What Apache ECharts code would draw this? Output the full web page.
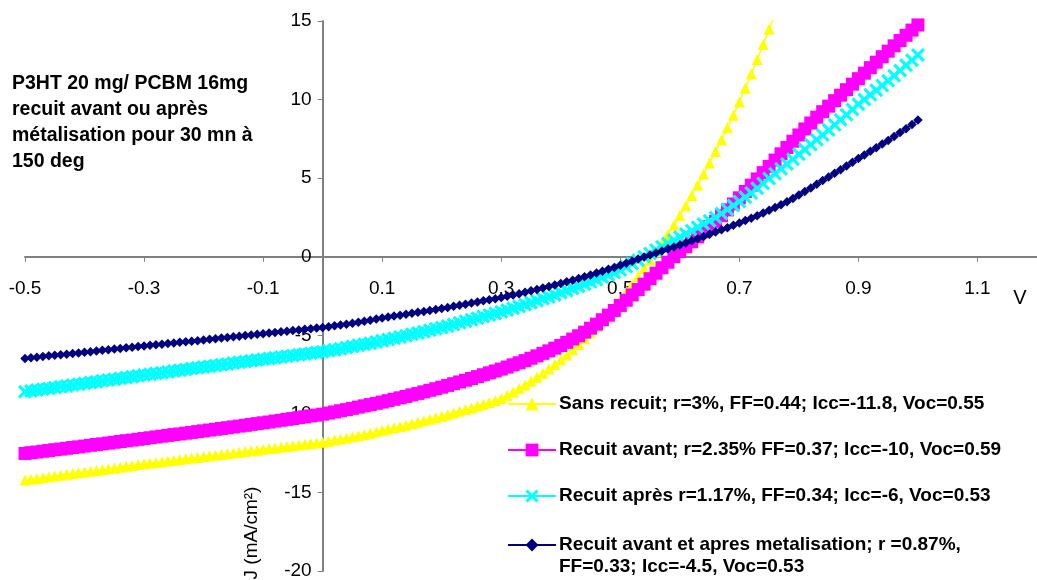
<!DOCTYPE html>
<html>
<head>
<meta charset="utf-8">
<script src="https://cdn.jsdelivr.net/npm/echarts@6/dist/echarts.min.js"></script>
<style>
  html, body { margin: 0; padding: 0; background: #ffffff; }
  #chart { width: 1037px; height: 580px; }
</style>
</head>
<body>
<div id="chart"></div>
<script>
// Voltage sweep (V)
const volts = [
  -0.50, -0.49, -0.48, -0.47, -0.46, -0.45, -0.44, -0.43, -0.42, -0.41, -0.40,
  -0.39, -0.38, -0.37, -0.36, -0.35, -0.34, -0.33, -0.32, -0.31, -0.30,
  -0.29, -0.28, -0.27, -0.26, -0.25, -0.24, -0.23, -0.22, -0.21, -0.20,
  -0.19, -0.18, -0.17, -0.16, -0.15, -0.14, -0.13, -0.12, -0.11, -0.10,
  -0.09, -0.08, -0.07, -0.06, -0.05, -0.04, -0.03, -0.02, -0.01, 0.00,
  0.01, 0.02, 0.03, 0.04, 0.05, 0.06, 0.07, 0.08, 0.09, 0.10,
  0.11, 0.12, 0.13, 0.14, 0.15, 0.16, 0.17, 0.18, 0.19, 0.20,
  0.21, 0.22, 0.23, 0.24, 0.25, 0.26, 0.27, 0.28, 0.29, 0.30,
  0.31, 0.32, 0.33, 0.34, 0.35, 0.36, 0.37, 0.38, 0.39, 0.40,
  0.41, 0.42, 0.43, 0.44, 0.45, 0.46, 0.47, 0.48, 0.49, 0.50,
  0.51, 0.52, 0.53, 0.54, 0.55, 0.56, 0.57, 0.58, 0.59, 0.60,
  0.61, 0.62, 0.63, 0.64, 0.65, 0.66, 0.67, 0.68, 0.69, 0.70,
  0.71, 0.72, 0.73, 0.74, 0.75, 0.76, 0.77, 0.78, 0.79, 0.80,
  0.81, 0.82, 0.83, 0.84, 0.85, 0.86, 0.87, 0.88, 0.89, 0.90,
  0.91, 0.92, 0.93, 0.94, 0.95, 0.96, 0.97, 0.98, 0.99, 1.00
];

// Current density J (mA/cm²) for each device
const sansRecuit = [
  -14.21, -14.16, -14.11, -14.06, -14.01, -13.96, -13.90, -13.85, -13.80, -13.75, -13.70,
  -13.65, -13.60, -13.55, -13.49, -13.44, -13.39, -13.34, -13.29, -13.23, -13.18,
  -13.13, -13.09, -13.04, -13.00, -12.95, -12.90, -12.86, -12.81, -12.77, -12.72,
  -12.67, -12.63, -12.58, -12.54, -12.49, -12.44, -12.40, -12.35, -12.31, -12.26,
  -12.21, -12.17, -12.12, -12.08, -12.03, -11.98, -11.94, -11.89, -11.85, -11.80,
  -11.74, -11.67, -11.60, -11.53, -11.46, -11.39, -11.31, -11.23, -11.14, -11.05,
  -10.97, -10.89, -10.80, -10.72, -10.63, -10.54, -10.44, -10.35, -10.25, -10.15,
  -10.05, -9.95, -9.84, -9.73, -9.62, -9.50, -9.39, -9.27, -9.15, -9.02,
  -8.82, -8.61, -8.39, -8.16, -7.92, -7.67, -7.41, -7.14, -6.86, -6.56,
  -6.25, -5.92, -5.58, -5.22, -4.84, -4.44, -4.03, -3.60, -3.16, -2.71,
  -2.24, -1.76, -1.26, -0.75, -0.23, 0.30, 0.85, 1.42, 2.01, 2.62,
  3.25, 3.90, 4.57, 5.26, 5.97, 6.70, 7.45, 8.22, 9.01, 9.85,
  10.72, 11.62, 12.55, 13.50, 14.47, 15.45
];

const recuitAvant = [
  -12.52, -12.47, -12.43, -12.38, -12.33, -12.28, -12.24, -12.19, -12.14, -12.10, -12.05,
  -12.00, -11.95, -11.91, -11.86, -11.81, -11.76, -11.71, -11.67, -11.62, -11.57,
  -11.52, -11.47, -11.42, -11.37, -11.32, -11.28, -11.23, -11.18, -11.13, -11.08,
  -11.03, -10.98, -10.93, -10.88, -10.83, -10.78, -10.73, -10.67, -10.62, -10.57,
  -10.52, -10.46, -10.41, -10.35, -10.30, -10.24, -10.19, -10.13, -10.08, -10.02,
  -9.95, -9.88, -9.80, -9.73, -9.65, -9.57, -9.49, -9.41, -9.33, -9.25,
  -9.16, -9.07, -8.98, -8.89, -8.79, -8.70, -8.60, -8.50, -8.40, -8.30,
  -8.19, -8.08, -7.97, -7.86, -7.75, -7.63, -7.51, -7.39, -7.27, -7.15,
  -7.02, -6.88, -6.75, -6.61, -6.46, -6.31, -6.15, -5.99, -5.82, -5.65,
  -5.45, -5.24, -5.03, -4.80, -4.55, -4.29, -4.01, -3.72, -3.42, -3.10,
  -2.77, -2.43, -2.09, -1.75, -1.40, -1.05, -0.70, -0.35, 0.00, 0.33,
  0.64, 0.95, 1.26, 1.58, 1.91, 2.25, 2.61, 2.98, 3.36, 3.75,
  4.15, 4.55, 4.95, 5.35, 5.75, 6.15, 6.55, 6.95, 7.35, 7.75,
  8.13, 8.51, 8.88, 9.23, 9.58, 9.93, 10.28, 10.63, 10.98, 11.33,
  11.68, 12.03, 12.38, 12.73, 13.08, 13.42, 13.76, 14.09, 14.42, 14.75
];

const recuitApres = [
  -8.59, -8.54, -8.48, -8.43, -8.38, -8.33, -8.27, -8.22, -8.17, -8.11, -8.06,
  -8.01, -7.95, -7.90, -7.85, -7.80, -7.74, -7.69, -7.64, -7.58, -7.53,
  -7.48, -7.43, -7.38, -7.33, -7.28, -7.22, -7.17, -7.12, -7.07, -7.02,
  -6.97, -6.92, -6.87, -6.82, -6.77, -6.72, -6.67, -6.62, -6.57, -6.52,
  -6.47, -6.43, -6.38, -6.33, -6.29, -6.24, -6.19, -6.14, -6.10, -6.05,
  -5.99, -5.92, -5.85, -5.78, -5.71, -5.64, -5.57, -5.50, -5.43, -5.35,
  -5.27, -5.19, -5.11, -5.03, -4.94, -4.86, -4.77, -4.68, -4.59, -4.50,
  -4.41, -4.31, -4.21, -4.11, -4.01, -3.91, -3.81, -3.71, -3.61, -3.50,
  -3.39, -3.28, -3.17, -3.05, -2.93, -2.81, -2.68, -2.56, -2.43, -2.30,
  -2.17, -2.03, -1.89, -1.75, -1.61, -1.46, -1.31, -1.16, -1.01, -0.85,
  -0.64, -0.43, -0.22, 0.00, 0.21, 0.42, 0.63, 0.84, 1.04, 1.25,
  1.45, 1.66, 1.87, 2.08, 2.29, 2.50, 2.75, 3.00, 3.26, 3.52,
  3.78, 4.05, 4.35, 4.66, 4.97, 5.28, 5.59, 5.90, 6.21, 6.52,
  6.83, 7.14, 7.45, 7.75, 8.07, 8.39, 8.72, 9.04, 9.37, 9.70,
  10.00, 10.30, 10.60, 10.90, 11.20, 11.52, 11.85, 12.18, 12.51, 12.84
];

const recuitAvantApres = [
  -6.47, -6.43, -6.39, -6.35, -6.31, -6.27, -6.24, -6.20, -6.16, -6.12, -6.08,
  -6.04, -6.00, -5.96, -5.92, -5.88, -5.84, -5.80, -5.76, -5.72, -5.68,
  -5.64, -5.60, -5.57, -5.53, -5.49, -5.45, -5.41, -5.38, -5.34, -5.30,
  -5.26, -5.22, -5.18, -5.14, -5.10, -5.06, -5.02, -4.98, -4.94, -4.90,
  -4.86, -4.82, -4.78, -4.74, -4.70, -4.66, -4.62, -4.58, -4.54, -4.50,
  -4.45, -4.40, -4.35, -4.29, -4.23, -4.17, -4.11, -4.04, -3.97, -3.90,
  -3.84, -3.78, -3.72, -3.66, -3.60, -3.54, -3.48, -3.42, -3.36, -3.30,
  -3.23, -3.16, -3.09, -3.02, -2.95, -2.88, -2.81, -2.74, -2.67, -2.60,
  -2.52, -2.43, -2.35, -2.26, -2.17, -2.08, -1.99, -1.89, -1.80, -1.70,
  -1.60, -1.49, -1.38, -1.27, -1.16, -1.04, -0.92, -0.80, -0.68, -0.55,
  -0.42, -0.29, -0.15, -0.02, 0.11, 0.24, 0.37, 0.50, 0.62, 0.75,
  0.88, 1.01, 1.15, 1.29, 1.43, 1.57, 1.71, 1.85, 2.00, 2.15,
  2.30, 2.45, 2.61, 2.78, 2.95, 3.13, 3.31, 3.50, 3.71, 3.93,
  4.15, 4.38, 4.61, 4.85, 5.08, 5.31, 5.54, 5.77, 6.01, 6.25,
  6.48, 6.71, 6.94, 7.17, 7.40, 7.65, 7.90, 8.15, 8.42, 8.70
];

const seriesNames = [
  'Sans recuit; r=3%, FF=0.44; Icc=-11.8, Voc=0.55',
  'Recuit avant; r=2.35% FF=0.37; Icc=-10, Voc=0.59',
  'Recuit après r=1.17%, FF=0.34; Icc=-6, Voc=0.53',
  'Recuit avant et apres metalisation; r =0.87%,\nFF=0.33; Icc=-4.5, Voc=0.53'
];

const xTicks = [-0.5, -0.3, -0.1, 0.1, 0.3, 0.5, 0.7, 0.9, 1.1];

const titleLines = [
  'P3HT 20 mg/ PCBM 16mg',
  'recuit avant ou après',
  'métalisation pour 30 mn à',
  '150 deg'
];

const FONT = '"Liberation Sans", Arial, Helvetica, sans-serif';

// Plot area and axis extents
const W = 1037, H = 580;
const GRID = { left: 25, right: 0, top: 21, bottom: 9 };
const X_MIN = -0.5, X_MAX = 1.2, Y_MIN = -20, Y_MAX = 15;

// Axes cross at the origin: shift each axis from the grid edge onto zero
const plotW = W - GRID.left - GRID.right;
const plotH = H - GRID.top - GRID.bottom;
const yAxisShift = (0 - X_MIN) / (X_MAX - X_MIN) * plotW;
const xAxisShift = (0 - Y_MIN) / (Y_MAX - Y_MIN) * plotH;

// Filled "x" marker
const crossSymbol = 'path://M1.6,0 L5,3.4 L8.4,0 L10,1.6 L6.6,5 L10,8.4 L8.4,10 L5,6.6 L1.6,10 L0,8.4 L3.4,5 L0,1.6 Z';

function pairs(arr) {
  return arr.map((j, i) => [volts[i], j]);
}

const styles = [
  { color: '#FFFF00', symbol: 'triangle', size: 11 },
  { color: '#FF00FF', symbol: 'rect', size: 13 },
  { color: '#00FFFF', symbol: crossSymbol, size: 14 },
  { color: '#000080', symbol: 'diamond', size: 9.5 }
];
const dataSets = [sansRecuit, recuitAvant, recuitApres, recuitAvantApres];

const series = dataSets.map((arr, k) => ({
  name: seriesNames[k],
  type: 'line',
  data: pairs(arr),
  symbol: styles[k].symbol,
  symbolSize: styles[k].size,
  showSymbol: true,
  showAllSymbol: true,
  clip: true,
  lineStyle: { color: styles[k].color, width: 1.5 },
  itemStyle: { color: styles[k].color, borderWidth: 0 },
  emphasis: { disabled: true }
}));

const legendText = {
  color: '#000000',
  fontWeight: 'bold',
  fontSize: 19,
  lineHeight: 22,
  fontFamily: FONT,
  padding: [0, 0, 0, -2]
};

const legendBase = {
  orient: 'vertical',
  left: 507,
  padding: 0,
  itemWidth: 48,
  itemHeight: 16,
  selectedMode: false,
  lineStyle: { width: 2 },
  textStyle: legendText
};

const chart = echarts.init(document.getElementById('chart'), null, { renderer: 'canvas' });

chart.setOption({
  animation: false,
  backgroundColor: '#ffffff',
  grid: Object.assign({ containLabel: false, outerBoundsMode: 'none' }, GRID),
  xAxis: {
    type: 'value',
    min: X_MIN,
    max: X_MAX,
    position: 'bottom',
    offset: -xAxisShift,
    axisLine: { onZero: false, lineStyle: { color: '#808080', width: 2 } },
    axisTick: { show: true, length: 5, customValues: xTicks, lineStyle: { color: '#808080', width: 1 } },
    axisLabel: {
      customValues: xTicks,
      margin: 23,
      color: '#000000',
      fontSize: 19,
      fontFamily: FONT,
      formatter: v => String(v)
    },
    splitLine: { show: false }
  },
  yAxis: {
    type: 'value',
    min: Y_MIN,
    max: Y_MAX,
    interval: 5,
    position: 'left',
    offset: -yAxisShift,
    axisLine: { show: true, onZero: false, lineStyle: { color: '#808080', width: 2 } },
    axisTick: { show: true, length: 5, lineStyle: { color: '#808080', width: 1 } },
    axisLabel: { margin: 11, color: '#000000', fontSize: 19, fontFamily: FONT },
    splitLine: { show: false }
  },
  legend: [
    Object.assign({}, legendBase, {
      top: 393,
      itemGap: 24,
      data: [seriesNames[0], seriesNames[1], seriesNames[2]]
    }),
    // two-line entry: a blank leading line keeps the symbol level with the first text line
    Object.assign({}, legendBase, {
      top: 512,
      formatter: name => ' \n' + name,
      data: [seriesNames[3]]
    })
  ],
  graphic: [
    {
      type: 'text',
      left: 12,
      top: 70,
      style: {
        text: titleLines.join('\n'),
        font: 'bold 19.5px ' + FONT,
        lineHeight: 26.3,
        fill: '#000000'
      }
    },
    {
      type: 'text',
      x: 1020,
      y: 298,
      style: {
        text: 'V',
        font: '20px ' + FONT,
        fill: '#000000',
        align: 'center',
        verticalAlign: 'middle'
      }
    },
    {
      type: 'text',
      x: 252,
      y: 533,
      rotation: Math.PI / 2,
      style: {
        text: 'J (mA/cm²)',
        font: '19px ' + FONT,
        fill: '#000000',
        align: 'center',
        verticalAlign: 'middle'
      }
    }
  ],
  series: series
});
</script>
</body>
</html>
